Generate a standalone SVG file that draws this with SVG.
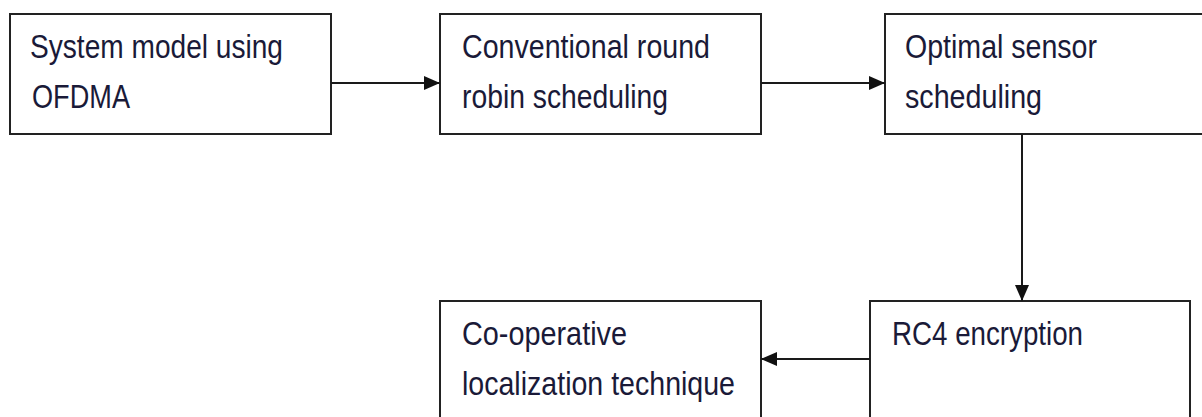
<svg xmlns="http://www.w3.org/2000/svg" width="1202" height="417" viewBox="0 0 1202 417">
<defs>
<marker id="ah" viewBox="0 0 16 16" refX="16" refY="8" markerWidth="16" markerHeight="16" markerUnits="userSpaceOnUse" orient="auto">
<path d="M0,1 L16,8 L0,15 Z" fill="#111"/>
</marker>
<style>
.box{fill:#fff;stroke:#222;stroke-width:2}
.t{font-family:"Liberation Sans",Arial,sans-serif;font-size:34px;fill:#1a1a38}
.c{fill:none;stroke:#1a1a1a;stroke-width:2;marker-end:url(#ah)}
</style>
</defs>
<rect width="1202" height="417" fill="#fff"/>
<g id="n1">
<rect class="box" x="10" y="14" width="321" height="120"/>
<text class="t" x="30" y="58" textLength="253" lengthAdjust="spacingAndGlyphs">System model using</text>
<text class="t" x="32" y="108" textLength="98" lengthAdjust="spacingAndGlyphs">OFDMA</text>
</g>
<g id="n2">
<rect class="box" x="440" y="14" width="321" height="120"/>
<text class="t" x="462" y="58" textLength="248" lengthAdjust="spacingAndGlyphs">Conventional round</text>
<text class="t" x="462" y="108" textLength="206" lengthAdjust="spacingAndGlyphs">robin scheduling</text>
</g>
<g id="n3">
<rect class="box" x="885" y="14" width="330" height="120"/>
<text class="t" x="905" y="58" textLength="192" lengthAdjust="spacingAndGlyphs">Optimal sensor</text>
<text class="t" x="905" y="108" textLength="137" lengthAdjust="spacingAndGlyphs">scheduling</text>
</g>
<g id="n4">
<rect class="box" x="870" y="301" width="320" height="130"/>
<text class="t" x="892" y="345" textLength="191" lengthAdjust="spacingAndGlyphs">RC4 encryption</text>
</g>
<g id="n5">
<rect class="box" x="440" y="301" width="321" height="130"/>
<text class="t" x="462" y="345" textLength="165" lengthAdjust="spacingAndGlyphs">Co-operative</text>
<text class="t" x="462" y="395" textLength="273" lengthAdjust="spacingAndGlyphs">localization technique</text>
</g>
<g id="connectors">
<line class="c" x1="331" y1="83" x2="440" y2="83"/>
<line class="c" x1="761" y1="83" x2="885" y2="83"/>
<line class="c" x1="1022" y1="134" x2="1022" y2="301"/>
<line class="c" x1="870" y1="359" x2="761" y2="359"/>
</g>
</svg>
